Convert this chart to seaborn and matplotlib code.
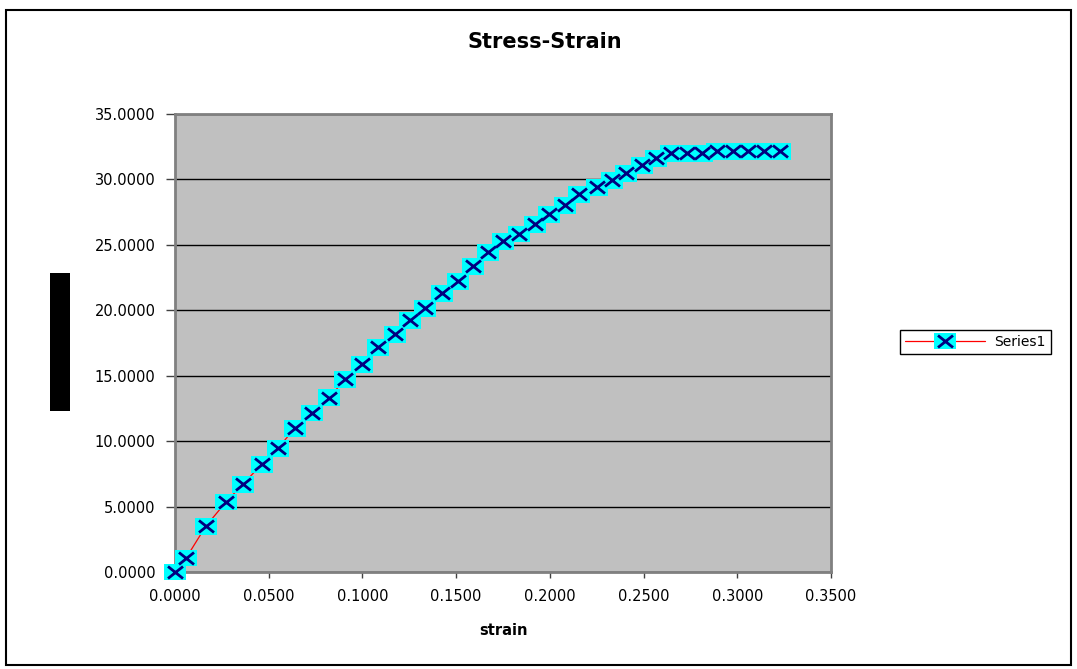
import matplotlib
matplotlib.use("Agg")
import matplotlib.pyplot as plt
import numpy as np
import pandas as pd
import seaborn as sns
from matplotlib.path import Path
from matplotlib.markers import MarkerStyle
from matplotlib.lines import Line2D
from matplotlib.patches import Rectangle
from matplotlib.legend_handler import HandlerTuple
from matplotlib.ticker import FormatStrFormatter, MultipleLocator

# Measured stress-strain points
strain = [0.0000, 0.0059, 0.0165, 0.0272, 0.0363, 0.0464, 0.0550, 0.0640, 0.0731, 0.0822,
          0.0907, 0.0998, 0.1083, 0.1174, 0.1254, 0.1334, 0.1425, 0.1510, 0.1590, 0.1670,
          0.1750, 0.1836, 0.1921, 0.1996, 0.2081, 0.2156, 0.2252, 0.2332, 0.2407, 0.2492,
          0.2567, 0.2647, 0.2732, 0.2812, 0.2892, 0.2978, 0.3058, 0.3143, 0.3228]
stress = [0.00, 1.07, 3.51, 5.35, 6.72, 8.25, 9.47, 11.00, 12.15, 13.30,
          14.74, 15.89, 17.19, 18.18, 19.25, 20.17, 21.31, 22.23, 23.38, 24.45,
          25.29, 25.83, 26.58, 27.35, 28.04, 28.88, 29.40, 29.95, 30.48, 31.09,
          31.63, 32.01, 32.01, 32.01, 32.16, 32.16, 32.16, 32.16, 32.16]
series_name = "Series1"
title_text = "Stress-Strain"
xlabel_text = "strain"

sns.set_style("white")
plt.rcParams["font.family"] = ["DejaVu Sans"]
plt.rcParams["text.color"] = "black"
plt.rcParams["axes.labelcolor"] = "black"
plt.rcParams["xtick.color"] = "black"
plt.rcParams["ytick.color"] = "black"

df = pd.DataFrame({"strain": strain, "stress": stress})

W, H = 1077, 669
fig = plt.figure(figsize=(W / 100, H / 100), dpi=100)
ax = fig.add_axes([175 / W, 1 - 572 / H, (831 - 175) / W, (572 - 114) / H])
ax.set_facecolor("#C0C0C0")

# Marker shapes: cyan block with a navy cross on top
rect_marker = MarkerStyle(Path([(-1.3, -1), (1.3, -1), (1.3, 1), (-1.3, 1), (-1.3, -1)],
                               [Path.MOVETO, Path.LINETO, Path.LINETO, Path.LINETO, Path.CLOSEPOLY]))
cross_marker = MarkerStyle(Path([(-1.25, -1), (1.25, 1), (-1.25, 1), (1.25, -1)],
                                [Path.MOVETO, Path.LINETO, Path.MOVETO, Path.LINETO]))

sns.lineplot(data=df, x="strain", y="stress", ax=ax, color="#FF0000", lw=0.9,
             sort=False, estimator=None, zorder=3)
sns.scatterplot(data=df, x="strain", y="stress", ax=ax, marker=rect_marker, s=251,
                color="#00FFFF", edgecolor="none", linewidth=0, zorder=4, clip_on=False)
sns.scatterplot(data=df, x="strain", y="stress", ax=ax, marker=cross_marker, s=117,
                color="#000080", edgecolor="#000080", linewidth=2.0, zorder=5, clip_on=False)

ax.set_xlim(0, 0.35)
ax.set_ylim(0, 35)
ax.xaxis.set_major_locator(MultipleLocator(0.05))
ax.yaxis.set_major_locator(MultipleLocator(5))
ax.xaxis.set_major_formatter(FormatStrFormatter("%.4f"))
ax.yaxis.set_major_formatter(FormatStrFormatter("%.4f"))
ax.yaxis.grid(True, color="black", lw=1)
ax.xaxis.grid(False)
ax.set_axisbelow(True)

ax.tick_params(axis="x", bottom=True, direction="out", length=4, width=1,
               color="#404040", labelsize=10.5, pad=8, labelcolor="black")
ax.tick_params(axis="y", left=True, direction="out", length=6.5, width=1,
               color="#404040", labelsize=10.5, pad=7.5, labelcolor="black")
for side in ["left", "bottom", "right", "top"]:
    ax.spines[side].set_color("#808080")
    ax.spines[side].set_linewidth(2)

ax.set_ylabel("")
ax.set_xlabel(xlabel_text, fontsize=10.5, fontweight="bold", labelpad=14, color="black")

fig.text(545 / W, 1 - 42 / H, title_text, ha="center", va="center",
         fontsize=15, fontweight="bold", color="black")

# Axis title block on the left
fig.add_artist(Rectangle((50 / W, 1 - 411 / H), 20 / W, 138 / H,
                         transform=fig.transFigure, facecolor="black", edgecolor="none"))

# Chart border
fig.add_artist(Rectangle((6 / W, 1 - 665 / H), (1071 - 6) / W, (665 - 10) / H,
                         transform=fig.transFigure, fill=False, edgecolor="black", lw=1.5))

h_line = Line2D([], [], color="#FF0000", lw=0.9)
h_rect = Line2D([], [], ls="none", marker=rect_marker, markersize=15.8,
                markerfacecolor="#00FFFF", markeredgewidth=0)
h_cross = Line2D([], [], ls="none", marker=cross_marker, markersize=10.8,
                 markeredgecolor="#000080", markerfacecolor="#000080", markeredgewidth=2.0)
leg = fig.legend(handles=[(h_line, h_rect, h_cross)], labels=[series_name],
                 handler_map={tuple: HandlerTuple(ndivide=1, pad=0)},
                 loc="center left", bbox_to_anchor=(900 / W, 1 - 342 / H),
                 frameon=True, fancybox=False, edgecolor="black", framealpha=1,
                 handlelength=5.8, fontsize=10, borderpad=0.35, handletextpad=0.65,
                 borderaxespad=0)
leg.get_frame().set_linewidth(1)
for t in leg.get_texts():
    t.set_color("black")

fig.savefig("out.png", dpi=100)
